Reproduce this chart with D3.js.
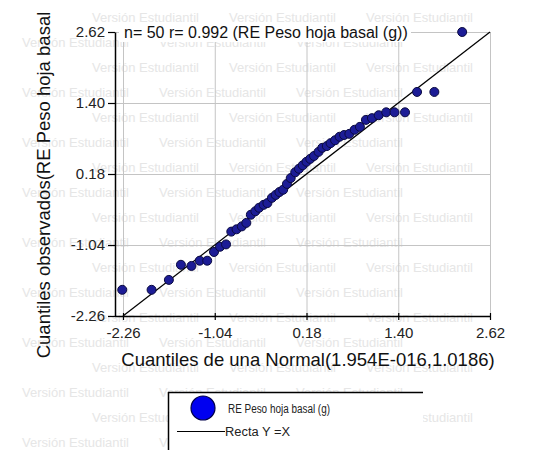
<!DOCTYPE html>
<html>
<head>
<meta charset="utf-8">
<script src="https://cdn.jsdelivr.net/npm/d3@7"></script>
<style>
  html, body { margin: 0; padding: 0; background: #fff; }
  svg { display: block; font-family: "Liberation Sans", Arial, sans-serif; }
</style>
</head>
<body>
<svg id="chart" width="537" height="450"></svg>
<script>
// Q-Q plot data
let tickValues = [-2.26, -1.04, 0.18, 1.40, 2.62];

let normalQuantiles = [
  -2.27, -1.88, -1.65, -1.49, -1.35, -1.24, -1.14, -1.05, -0.97, -0.89,
  -0.82, -0.75, -0.68, -0.62, -0.56, -0.50, -0.45, -0.39, -0.34, -0.28,
  -0.23, -0.18, -0.13, -0.08, -0.03,  0.03,  0.08,  0.13,  0.18,  0.23,
   0.28,  0.34,  0.39,  0.45,  0.50,  0.56,  0.62,  0.68,  0.75,  0.82,
   0.89,  0.97,  1.05,  1.14,  1.24,  1.35,  1.49,  1.65,  1.88,  2.25
];

let observedQuantiles = [
  -1.81, -1.81, -1.64, -1.38, -1.40, -1.31, -1.31, -1.16, -1.07, -1.03,
  -0.81, -0.77, -0.72, -0.66, -0.52, -0.46, -0.40, -0.35, -0.32, -0.23,
  -0.18, -0.13, -0.09,  0.01,  0.11,  0.21,  0.27,  0.33,  0.39,  0.44,
   0.49,  0.56,  0.63,  0.66,  0.71,  0.76,  0.82,  0.85,  0.87,  0.94,
   0.99,  1.11,  1.14,  1.19,  1.24,  1.24,  1.24,  1.59,  1.59,  2.62
];

let titleText = "n= 50 r= 0.992 (RE Peso hoja basal (g))";
let xTitle = "Cuantiles de una Normal(1.954E-016,1.0186)";
let yTitle = "Cuantiles observados(RE Peso hoja basal";
let legendItems = ["RE Peso hoja basal (g)", "Recta Y =X"];
let watermark = "Versión Estudiantil";

let kChart = { "left": 123, "right": 490, "top": 32, "bottom": 316, "axisX": 115 };

let svg = d3.select("#chart");

// watermark (only whole copies inside the band)
let wm = svg.append("g").attr("fill", "#e6e6e6").attr("font-size", 13);
for (let r = 0; r < 18; r++) {
  let wy = 22 + r * 25;
  let offset = (r % 2 === 0) ? 92 : 22;
  for (let k = 0; k < 4; k++) {
    let wx = offset + k * 137;
    if (wx + 112 > 530) continue;
    wm.append("text").attr("x", wx).attr("y", wy).text(watermark);
  }
}

let x = d3.scaleLinear().domain([-2.26, 2.62]).range([kChart.left, kChart.right]);
let y = d3.scaleLinear().domain([-2.26, 2.62]).range([kChart.bottom, kChart.top]);

// grid
let grid = svg.append("g").attr("stroke", "#c4c4c4").attr("stroke-width", 1);
tickValues.forEach(function(t) {
  grid.append("line")
    .attr("x1", x(t) + 0.5).attr("x2", x(t) + 0.5)
    .attr("y1", kChart.top).attr("y2", kChart.bottom);
  grid.append("line")
    .attr("x1", kChart.axisX).attr("x2", kChart.right)
    .attr("y1", y(t) + 0.5).attr("y2", y(t) + 0.5);
});

// title with white background
svg.append("rect")
  .attr("x", 119).attr("y", 22).attr("width", 292).attr("height", 20)
  .attr("fill", "#fff");
svg.append("text")
  .attr("x", 124).attr("y", 38)
  .attr("font-size", 16).attr("fill", "#111")
  .text(titleText);

// Y = X line
svg.append("line")
  .attr("x1", x(-2.26)).attr("y1", y(-2.26))
  .attr("x2", x(2.62)).attr("y2", y(2.62))
  .attr("stroke", "#000").attr("stroke-width", 1.2);

// points
svg.append("g").selectAll("circle")
  .data(normalQuantiles)
  .join("circle")
  .attr("cx", function(d) { return x(d); })
  .attr("cy", function(d, i) { return y(observedQuantiles[i]); })
  .attr("r", 4.5)
  .attr("fill", "#1c1c96")
  .attr("stroke", "#0a0a40")
  .attr("stroke-width", 1);

// axes
let fmt = function(d) { return d.toFixed(2); };

let yAxis = svg.append("g")
  .attr("transform", "translate(" + kChart.axisX + ",0)")
  .call(d3.axisLeft(y).tickValues(tickValues).tickFormat(fmt).tickSize(7).tickSizeOuter(0).tickPadding(3));

let xAxis = svg.append("g")
  .attr("transform", "translate(0," + kChart.bottom + ")")
  .call(d3.axisBottom(x).tickValues(tickValues).tickFormat(fmt).tickSize(4).tickSizeOuter(0).tickPadding(7));

svg.append("line")
  .attr("x1", kChart.axisX).attr("x2", kChart.left)
  .attr("y1", kChart.bottom + 0.5).attr("y2", kChart.bottom + 0.5)
  .attr("stroke", "#000").attr("stroke-width", 1.5);

[xAxis, yAxis].forEach(function(a) {
  a.select(".domain").attr("stroke", "#000").attr("stroke-width", 1.5);
  a.selectAll(".tick line").attr("stroke", "#000").attr("stroke-width", 1.2);
  a.selectAll(".tick text")
    .attr("font-family", "Liberation Sans, Arial, sans-serif")
    .attr("font-size", 15).attr("fill", "#222");
});
xAxis.selectAll(".tick line").attr("y1", -3);

// axis titles
svg.append("text")
  .attr("x", 308).attr("y", 366)
  .attr("text-anchor", "middle")
  .attr("font-size", 18.5).attr("fill", "#111")
  .text(xTitle);

svg.append("text")
  .attr("transform", "translate(50,185) rotate(-90)")
  .attr("text-anchor", "middle")
  .attr("font-size", 18.5).attr("fill", "#111")
  .text(yTitle);

// legend
let lg = svg.append("g");
lg.append("rect").attr("x", 168).attr("y", 392).attr("width", 255).attr("height", 70)
  .attr("fill", "#fff");
lg.append("line").attr("x1", 168).attr("x2", 423).attr("y1", 392.5).attr("y2", 392.5)
  .attr("stroke", "#000").attr("stroke-width", 1.5);
lg.append("line").attr("x1", 168.5).attr("x2", 168.5).attr("y1", 392).attr("y2", 450)
  .attr("stroke", "#000").attr("stroke-width", 1.5);

lg.append("circle").attr("cx", 203).attr("cy", 408).attr("r", 12)
  .attr("fill", "#0000f0").attr("stroke", "#00004a").attr("stroke-width", 1.2);
lg.append("text").attr("x", 228).attr("y", 413)
  .attr("font-size", 12).attr("fill", "#222")
  .attr("textLength", 102).attr("lengthAdjust", "spacingAndGlyphs")
  .text(legendItems[0]);

lg.append("line").attr("x1", 177).attr("x2", 225).attr("y1", 431.5).attr("y2", 431.5)
  .attr("stroke", "#000").attr("stroke-width", 1);
lg.append("text").attr("x", 225).attr("y", 436)
  .attr("font-size", 12).attr("fill", "#222")
  .attr("textLength", 65).attr("lengthAdjust", "spacingAndGlyphs")
  .text(legendItems[1]);
</script>
</body>
</html>
